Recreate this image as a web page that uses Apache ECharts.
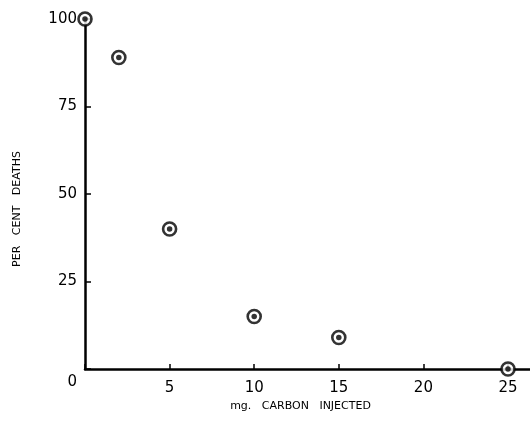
<!DOCTYPE html>
<html>
<head>
<meta charset="utf-8">
<script src="https://cdn.jsdelivr.net/npm/echarts@6/dist/echarts.min.js"></script>
<style>
html,body{margin:0;padding:0;background:#fff;}
#c{width:530px;height:428px;}
</style>
</head>
<body>
<div id="c"></div>
<script>
// Data
const carbonMg = [0, 2, 5, 10, 15, 25];
const percentDeaths = [100, 89, 40, 15, 9, 0];
const yTicks = [0, 25, 50, 75, 100];
const xTicks = [5, 10, 15, 20, 25];
const xTitle = 'mg.   CARBON   INJECTED';
const yTitle = 'PER   CENT   DEATHS';

const points = carbonMg.map((x, i) => [x, percentDeaths[i]]);
const font = 'DejaVu Sans';

const chart = echarts.init(document.getElementById('c'));
chart.setOption({
  animation: false,
  backgroundColor: '#fff',
  grid: { left: 85, right: 0, top: 19, bottom: 59, containLabel: false },
  xAxis: {
    type: 'value', min: 0, max: 26.3, interval: 5,
    name: xTitle, nameLocation: 'middle', nameGap: 30,
    nameTextStyle: { fontFamily: font, fontSize: 11, color: '#000', padding: [0, 14, 0, 0] },
    axisLine: { show: true, lineStyle: { color: '#000', width: 2.5 } },
    axisTick: { show: true, inside: true, length: 5, lineStyle: { color: '#000', width: 1.5 } },
    axisLabel: {
      fontFamily: font, fontSize: 15, color: '#000', margin: 12,
      showMaxLabel: false,
      formatter: v => (xTicks.indexOf(v) >= 0 ? String(v) : '')
    },
    splitLine: { show: false }
  },
  yAxis: {
    type: 'value', min: 0, max: 100, interval: 25,
    name: yTitle, nameLocation: 'middle', nameGap: 62, nameRotate: 90,
    nameTextStyle: { fontFamily: font, fontSize: 11, color: '#000', padding: [0, 30, 0, 0] },
    axisLine: { show: true, lineStyle: { color: '#000', width: 2.5 } },
    axisTick: { show: true, inside: true, length: 6, lineStyle: { color: '#000', width: 1.5 } },
    axisLabel: {
      fontFamily: font, fontSize: 15, color: '#000', margin: 8,
      formatter: v => (yTicks.indexOf(v) < 0 ? '' : (v === 0 ? '{z|0}' : String(v))),
      rich: { z: { fontFamily: font, fontSize: 15, color: '#000', padding: [26, 0, 0, 0] } }
    },
    splitLine: { show: false }
  },
  series: [
    {
      type: 'scatter', data: points, symbol: 'circle', symbolSize: 13,
      itemStyle: { color: '#fff', borderColor: '#000', borderWidth: 2.6 },
      clip: false, z: 3
    },
    {
      type: 'scatter', data: points, symbol: 'circle', symbolSize: 5.5,
      itemStyle: { color: '#000' }, clip: false, z: 4
    }
  ]
});
</script>
</body>
</html>
